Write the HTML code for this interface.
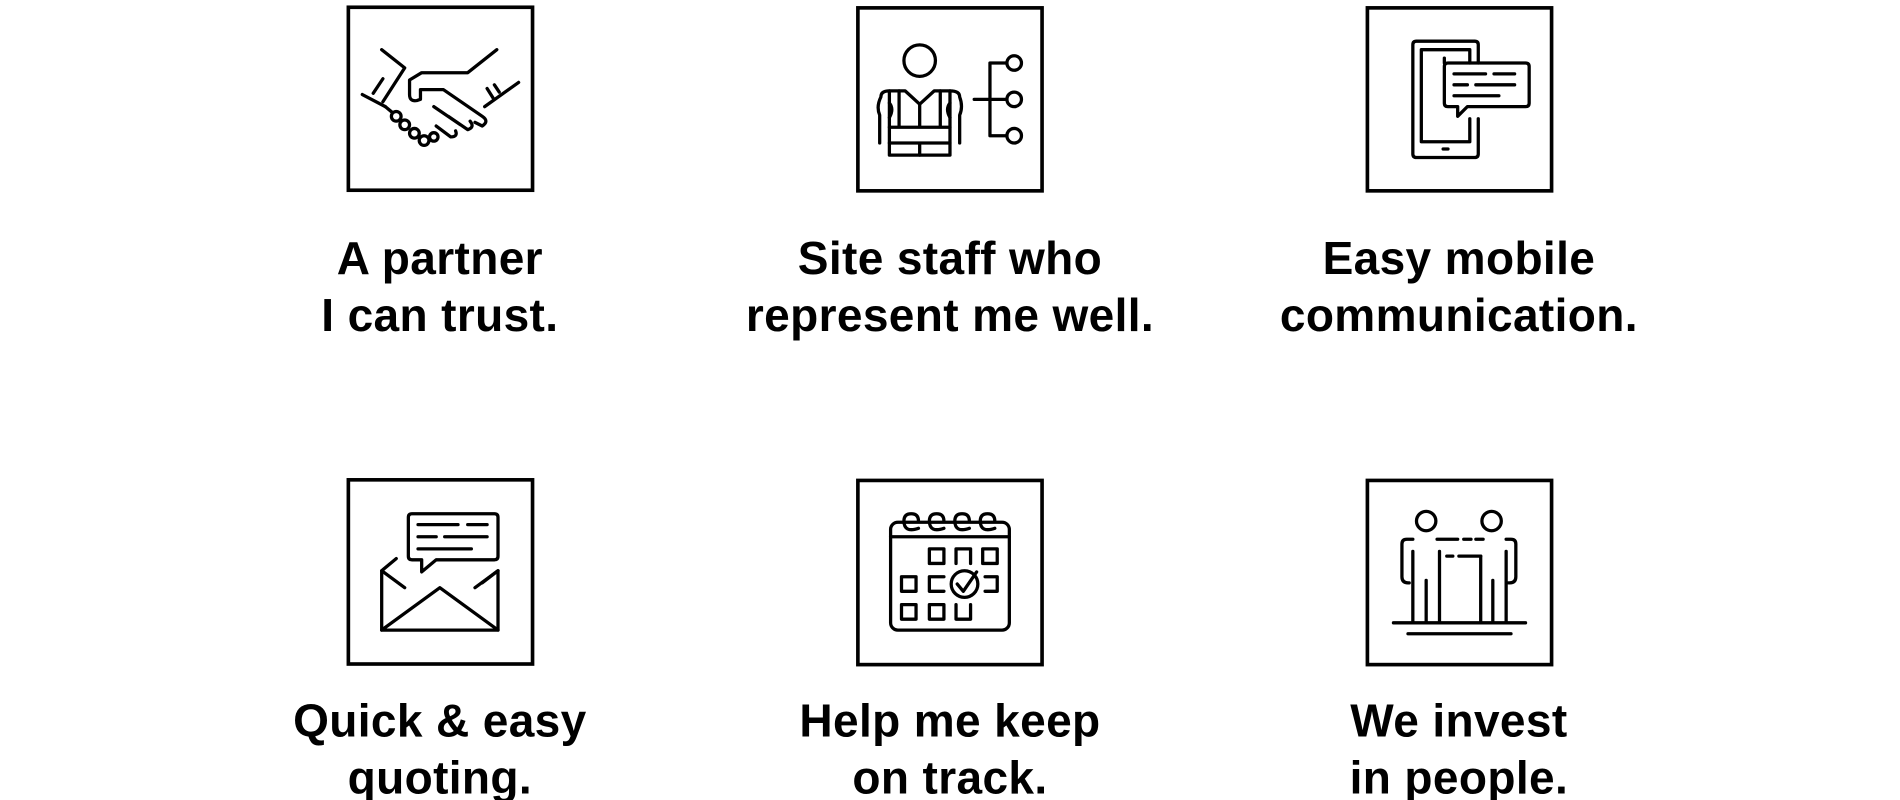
<!DOCTYPE html>
<html><head><meta charset="utf-8"><style>
html,body{margin:0;padding:0;background:#fff;width:1900px;height:800px;overflow:hidden}
svg{display:block}
text{font-family:"Liberation Sans",sans-serif;font-weight:bold;font-size:38px;fill:#000;text-anchor:middle;letter-spacing:0.3px}
</style></head><body>
<svg width="1900" height="800" viewBox="0 0 1900 800">
<g transform="scale(1.2117)">
<g fill="none" stroke="#000" stroke-width="3">
<rect x="287.5" y="6" width="152" height="151"/>
<rect x="708" y="6.5" width="152" height="151"/>
<rect x="1128.5" y="6.5" width="152" height="151"/>
<rect x="287.5" y="396" width="152" height="152"/>
<rect x="708" y="396.5" width="152" height="152"/>
<rect x="1128.5" y="396.5" width="152" height="152"/>
</g>
<g fill="none" stroke="#000" stroke-width="2.7" stroke-linecap="round" stroke-linejoin="round">
<!-- handshake -->
<path d="M315 41 L334 56 L316 84"/>
<path d="M299 78 L318 88"/>
<path d="M308 77 L316 65"/>
<path d="M410 41 L386 60 L348 60 L338 66 L338 78 Q338 84 344 83 L347 82 L347 74 L366 74 L398 96 Q404 100 398 104 L392 101"/>
<path d="M428 68 L400 88"/>
<path d="M402 73 L407 81 M408 70 L412 76"/>
<path d="M380 103 L358 88 M388 100 Q392 105 386 107 L370 96 M376 108 Q378 113 372 113 L360 104"/>
<circle cx="327" cy="96" r="4"/><circle cx="334" cy="103" r="4"/><circle cx="342" cy="110" r="4"/><circle cx="350" cy="116" r="4"/><circle cx="358" cy="113" r="3.5"/>
<path d="M318 88 L324 93"/>
<!-- staff -->
<circle cx="759" cy="50" r="13"/>
<path d="M726 118 L726 95 Q723 88 727 80 Q727 75 734 75 L747 75 L759 86 L771 75 L784 75 Q792 75 792 80 Q795 88 792 95 L792 118"/>
<path d="M734 75 L734 128 L784 128 L784 75"/>
<path d="M742 75 L742 105 M776 75 L776 105 M734 105 L784 105 M734 118 L784 118 M759 86 L759 105 M759 118 L759 128"/>
<path d="M734 85 Q738 90 734 97 M784 85 Q780 90 784 97"/>
<path d="M817 52 L817 112 M817 52 L831 52 M817 82 L831 82 M817 112 L831 112 M804 82 L817 82"/>
<circle cx="837" cy="52" r="6"/><circle cx="837" cy="82" r="6"/><circle cx="837" cy="112" r="6"/>
<!-- phone -->
<path d="M1192 52 L1192 48 M1220 52 L1220 37 Q1220 34 1217 34 L1169 34 Q1166 34 1166 37 L1166 127 Q1166 130 1169 130 L1217 130 Q1220 130 1220 127 L1220 98"/>
<path d="M1213 52 L1213 41 L1173 41 L1173 117 L1213 117 L1213 98"/>
<path d="M1191 123 L1195 123"/>
<path d="M1195 52 L1259 52 Q1262 52 1262 55 L1262 85 Q1262 88 1259 88 L1211 88 L1203 96 L1203 88 L1195 88 Q1192 88 1192 85 L1192 55 Q1192 52 1195 52 Z"/>
<path d="M1200 61 L1226 61 M1233 61 L1250 61 M1200 70 L1211 70 M1218 70 L1250 70 M1200 79 L1237 79"/>
<!-- envelope -->
<path d="M340 424 L408 424 Q411 424 411 427 L411 459 Q411 462 408 462 L360 462 L348 472 L348 462 L340 462 Q337 462 337 459 L337 427 Q337 424 340 424 Z"/>
<path d="M345 433 L378 433 M386 433 L402 433 M345 443 L360 443 M367 443 L402 443 M345 453 L389 453"/>
<path d="M327 461 L315 471 L315 520 L411 520 L411 471 L398 481"/>
<path d="M315 471 L334 485 M411 471 L392 485 M315 520 L363 485 L411 520"/>
<!-- calendar -->
<rect x="735" y="431" width="98" height="89" rx="6"/>
<path d="M735 443 L833 443"/>
<path d="M758 436 Q746 440 746 430 Q746 424 752 424 Q758 424 758 430 M779 436 Q767 440 767 430 Q767 424 773 424 Q779 424 779 430 M800 436 Q788 440 788 430 Q788 424 794 424 Q800 424 800 430 M821 436 Q809 440 809 430 Q809 424 815 424 Q821 424 821 430"/>
<rect x="767" y="453" width="12" height="12"/><path d="M789 465 L789 453 L801 453 L801 465"/><rect x="811" y="453" width="12" height="12"/>
<rect x="744" y="476" width="12" height="12"/><path d="M779 476 L767 476 L767 488 L779 488"/><path d="M813 476 L823 476 L823 488 L813 488"/>
<circle cx="796" cy="482" r="11"/><path d="M790 482 L795 488 L806 472"/>
<rect x="744" y="499" width="12" height="12"/><rect x="767" y="499" width="12" height="12"/><path d="M789 499 L789 511 L801 511 L801 499"/>
<!-- people -->
<circle cx="1177" cy="430" r="8"/><circle cx="1231" cy="430" r="8"/>
<path d="M1166 445 L1161 445 Q1157 445 1157 449 L1157 476 Q1157 481 1162 481 L1163 481 M1166 455 L1166 514 M1177 479 L1177 514 M1188 455 L1188 514"/>
<path d="M1243 445 L1247 445 Q1251 445 1251 449 L1251 476 Q1251 481 1246 481 L1245 481 M1243 455 L1243 514 M1232 479 L1232 514 M1222 459 L1222 514"/>
<path d="M1186 445 L1203 445 M1208 445 L1214 445 M1218 445 L1224 445 M1194 459 L1199 459 M1204 459 L1222 459"/>
<path d="M1150 514 L1259 514 M1162 523 L1247 523"/>
</g>
<text x="363" y="226">A partner</text>
<text x="363" y="273">I can trust.</text>
<text x="784" y="226">Site staff who</text>
<text x="784" y="273">represent me well.</text>
<text x="1204" y="226">Easy mobile</text>
<text x="1204" y="273">communication.</text>
<text x="363" y="608">Quick &amp; easy</text>
<text x="363" y="655">quoting.</text>
<text x="784" y="608">Help me keep</text>
<text x="784" y="655">on track.</text>
<text x="1204" y="608">We invest</text>
<text x="1204" y="655">in people.</text>
</g>
</svg>
</body></html>
